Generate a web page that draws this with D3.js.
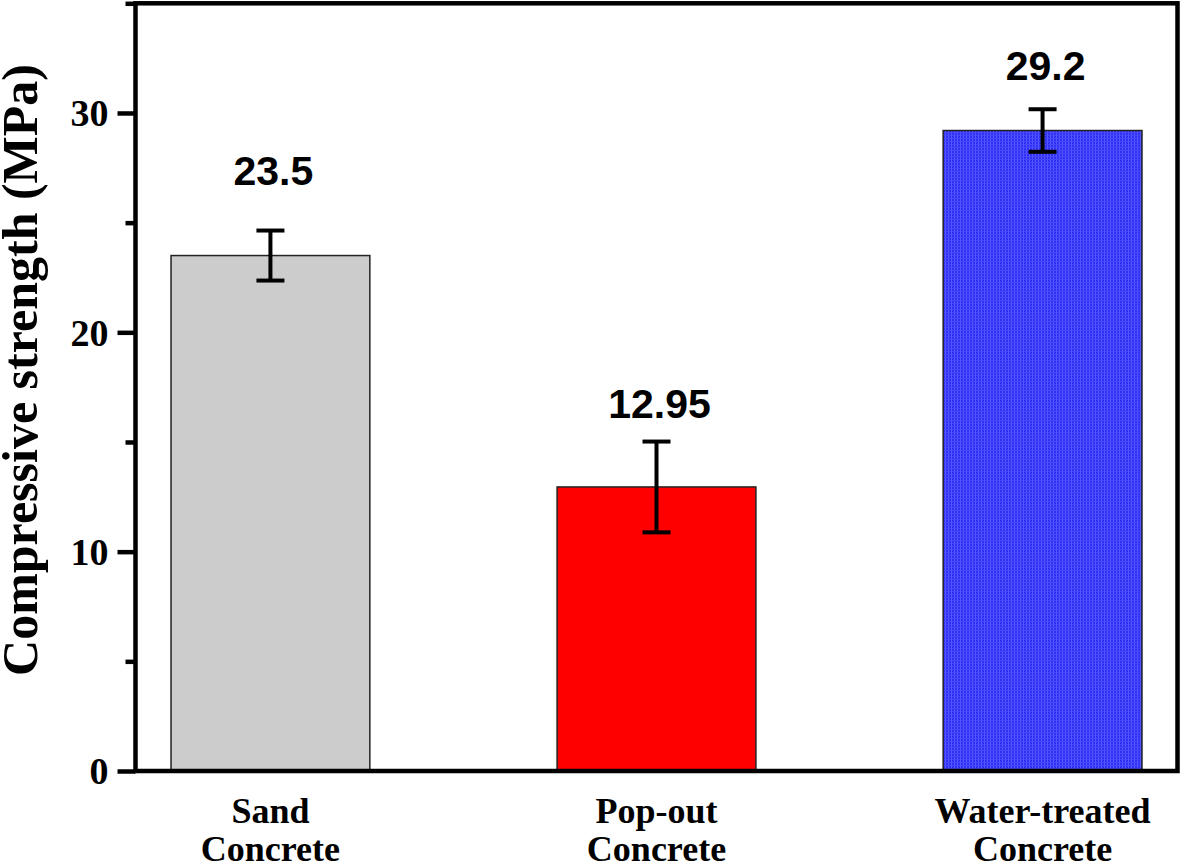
<!DOCTYPE html>
<html>
<head>
<meta charset="utf-8">
<script src="https://cdn.jsdelivr.net/npm/d3@7"></script>
<style>
  html, body { margin: 0; padding: 0; background: #fff; }
  svg { display: block; }
</style>
</head>
<body>
<svg id="chart" width="1181" height="863"></svg>
<script>
// ---- data ----
const categories = ["Sand Concrete", "Pop-out Concrete", "Water-treated Concrete"];
const categoryLines = [["Sand", "Concrete"], ["Pop-out", "Concrete"], ["Water-treated", "Concrete"]];
const strengths = [23.5, 12.95, 29.2];
const errors = [1.14, 2.07, 0.97];
const valueLabels = ["23.5", "12.95", "29.2"];
const labelAnchors = [26.7, 16.1, 31.5];   // label baseline, in MPa units
const majorTicks = [0, 10, 20, 30];
const minorTicks = [5, 15, 25, 35];
const barColors = ["#cccccc", "#ff0000", "url(#bluePattern)"];

// ---- layout ----
const svg = d3.select("#chart");
const plotLeft = 135.5, plotRight = 1177.5, plotTop = 3.3, plotBottom = 771;

const x = d3.scaleBand().domain(categories).range([plotLeft, plotRight])
  .paddingInner(0.485).paddingOuter(0.092);
const y = d3.scaleLinear().domain([0, 35]).range([plotBottom, plotTop]);

// pattern for blue bar
const defs = svg.append("defs");
const pat = defs.append("pattern").attr("id", "bluePattern")
  .attr("patternUnits", "userSpaceOnUse").attr("width", 3).attr("height", 3);
pat.append("rect").attr("width", 3).attr("height", 3).attr("fill", "#3030f4");
pat.append("rect").attr("width", 1).attr("height", 3).attr("fill", "#5858ff");
pat.append("rect").attr("width", 3).attr("height", 1).attr("fill", "#4646fb");

// bars
svg.append("g").selectAll("rect").data(categories).join("rect")
  .attr("x", d => x(d))
  .attr("y", (d, i) => y(strengths[i]))
  .attr("width", x.bandwidth())
  .attr("height", (d, i) => y(0) - y(strengths[i]))
  .attr("fill", (d, i) => barColors[i])
  .attr("stroke", "#222")
  .attr("stroke-width", 1.5);

// error bars
const eb = svg.append("g").attr("stroke", "#000").attr("stroke-width", 4);
categories.forEach((c, i) => {
  const cx = x(c) + x.bandwidth() / 2;
  const hi = y(strengths[i] + errors[i]), lo = y(strengths[i] - errors[i]);
  eb.append("line").attr("x1", cx).attr("x2", cx).attr("y1", hi).attr("y2", lo);
  eb.append("line").attr("x1", cx - 14).attr("x2", cx + 14).attr("y1", hi).attr("y2", hi);
  eb.append("line").attr("x1", cx - 14).attr("x2", cx + 14).attr("y1", lo).attr("y2", lo);
});

// value labels
svg.append("g").selectAll("text").data(categories).join("text")
  .attr("x", d => x(d) + x.bandwidth() / 2 + 3)
  .attr("y", (d, i) => y(labelAnchors[i]))
  .attr("text-anchor", "middle")
  .attr("font-family", "'Liberation Sans', Arial, sans-serif")
  .attr("font-weight", "bold")
  .attr("font-size", 41)
  .attr("fill", "#000")
  .text((d, i) => valueLabels[i]);

// y axis (major)
const yAxis = d3.axisLeft(y).tickValues(majorTicks).tickSize(18).tickPadding(9).tickFormat(d3.format("d"));
const gy = svg.append("g").attr("transform", `translate(${plotLeft},0)`).call(yAxis);
gy.select(".domain").remove();
gy.selectAll(".tick line").attr("stroke", "#000").attr("stroke-width", 4.5);
gy.selectAll(".tick text")
  .attr("font-family", "'Liberation Serif', 'Times New Roman', serif")
  .attr("font-weight", "bold").attr("font-size", 38).attr("fill", "#000")
  .attr("dy", "0.34em");

// y axis (minor)
const yMinor = d3.axisLeft(y).tickValues(minorTicks).tickSize(10).tickFormat("");
const gym = svg.append("g").attr("transform", `translate(${plotLeft},0)`).call(yMinor);
gym.select(".domain").remove();
gym.selectAll(".tick line").attr("stroke", "#000").attr("stroke-width", 4.5);

// frame
svg.append("rect")
  .attr("x", plotLeft).attr("y", plotTop)
  .attr("width", plotRight - plotLeft).attr("height", plotBottom - plotTop)
  .attr("fill", "none").attr("stroke", "#000").attr("stroke-width", 4.5);

// x labels
const xl = svg.append("g").selectAll("text").data(categories).join("text")
  .attr("x", d => x(d) + x.bandwidth() / 2)
  .attr("y", 823)
  .attr("text-anchor", "middle")
  .attr("font-family", "'Liberation Serif', 'Times New Roman', serif")
  .attr("font-weight", "bold")
  .attr("font-size", 36)
  .attr("fill", "#000");
xl.each(function(d, i) {
  const t = d3.select(this);
  categoryLines[i].forEach((line, j) => {
    t.append("tspan").attr("x", x(d) + x.bandwidth() / 2)
      .attr("dy", j === 0 ? 0 : 38).text(line);
  });
});

// y title
svg.append("text")
  .attr("transform", "translate(37,370) rotate(-90)")
  .attr("text-anchor", "middle")
  .attr("font-family", "'Liberation Serif', 'Times New Roman', serif")
  .attr("font-weight", "bold")
  .attr("font-size", 50)
  .attr("fill", "#000")
  .text("Compressive strength (MPa)");
</script>
</body>
</html>
